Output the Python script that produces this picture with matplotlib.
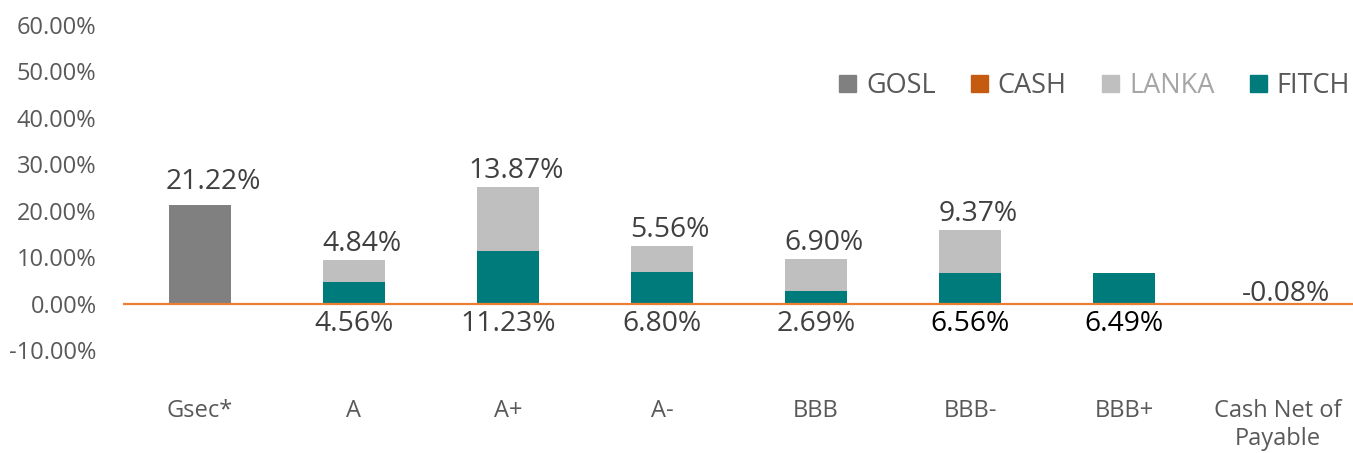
import numpy as np
import matplotlib.pyplot as plt
from matplotlib.patches import Patch

plt.rcParams['font.family'] = ['Open Sans', 'DejaVu Sans']

# ---- data (percent) ----
categories = ['Gsec*', 'A', 'A+', 'A-', 'BBB', 'BBB-', 'BBB+', 'Cash Net of\nPayable']
gosl = [21.22, 0, 0, 0, 0, 0, 0, 0]
cash = [0, 0, 0, 0, 0, 0, 0, -0.08]
fitch = [0, 4.56, 11.23, 6.80, 2.69, 6.56, 6.49, 0]
lanka = [0, 4.84, 13.87, 5.56, 6.90, 9.37, 0, 0]

c_gosl = '#808080'
c_cash = '#C55A11'
c_lanka = '#BFBFBF'
c_fitch = '#007B7B'
txt = '#404040'
tick_col = '#595959'

fig = plt.figure(figsize=(13.53, 4.53), dpi=100)
ax = fig.add_axes([123 / 1353, 103 / 453, 1232 / 1353, 325 / 453])

x = np.arange(len(categories))
w = 0.4
fitch = np.array(fitch)
lanka = np.array(lanka)

ax.bar(x, gosl, w, color=c_gosl)
ax.bar(x, cash, w, color=c_cash)
ax.bar(x, fitch, w, color=c_fitch)
ax.bar(x, lanka, w, bottom=fitch, color=c_lanka)

ax.axhline(0, color='#ED7D31', lw=1.6, zorder=3)

ax.set_xlim(-0.5, len(categories) - 0.5)
ax.set_ylim(-10, 60)
ax.set_yticks(np.arange(-10, 61, 10))
ax.set_yticklabels(['%.2f%%' % v for v in np.arange(-10, 61, 10)])
ax.set_xticks(x)
ax.set_xticklabels(categories, linespacing=1.25)
ax.tick_params(axis='y', length=0, pad=19, labelsize=17, labelcolor=tick_col)
ax.tick_params(axis='x', length=0, pad=35, labelsize=17, labelcolor=tick_col)
for s in ax.spines.values():
    s.set_visible(False)

# data labels
fs = 20.3
ax.annotate('%.2f%%' % gosl[0], (x[0], gosl[0]), xytext=(13, 9), textcoords='offset pixels',
            ha='center', va='bottom', fontsize=fs, color=txt)
for i in range(1, 6):
    ax.annotate('%.2f%%' % lanka[i], (x[i], fitch[i] + lanka[i]), xytext=(8, 2),
                textcoords='offset pixels', ha='center', va='bottom', fontsize=fs, color=txt)
for i in range(1, 7):
    col = 'black' if i >= 5 else txt
    ax.annotate('%.2f%%' % fitch[i], (x[i], 0), xytext=(0, -6),
                textcoords='offset pixels', ha='center', va='top', fontsize=fs, color=col)
ax.annotate('%.2f%%' % cash[7], (x[7], 0), xytext=(8, -4), textcoords='offset pixels',
            ha='center', va='bottom', fontsize=fs, color=txt)

handles = [Patch(color=c_gosl), Patch(color=c_cash), Patch(color=c_lanka), Patch(color=c_fitch)]
leg = fig.legend(handles, ['GOSL', 'CASH', 'LANKA', 'FITCH'], ncol=4, loc='center right',
                 bbox_to_anchor=(0.998, 1 - 86 / 453), frameon=False, fontsize=19.5,
                 handlelength=0.62, handleheight=0.62, handletextpad=0.38,
                 columnspacing=1.3, borderaxespad=0, borderpad=0)
for t, c in zip(leg.get_texts(), [tick_col, tick_col, '#A6A6A6', tick_col]):
    t.set_color(c)

fig.savefig('out.png', dpi=100)
